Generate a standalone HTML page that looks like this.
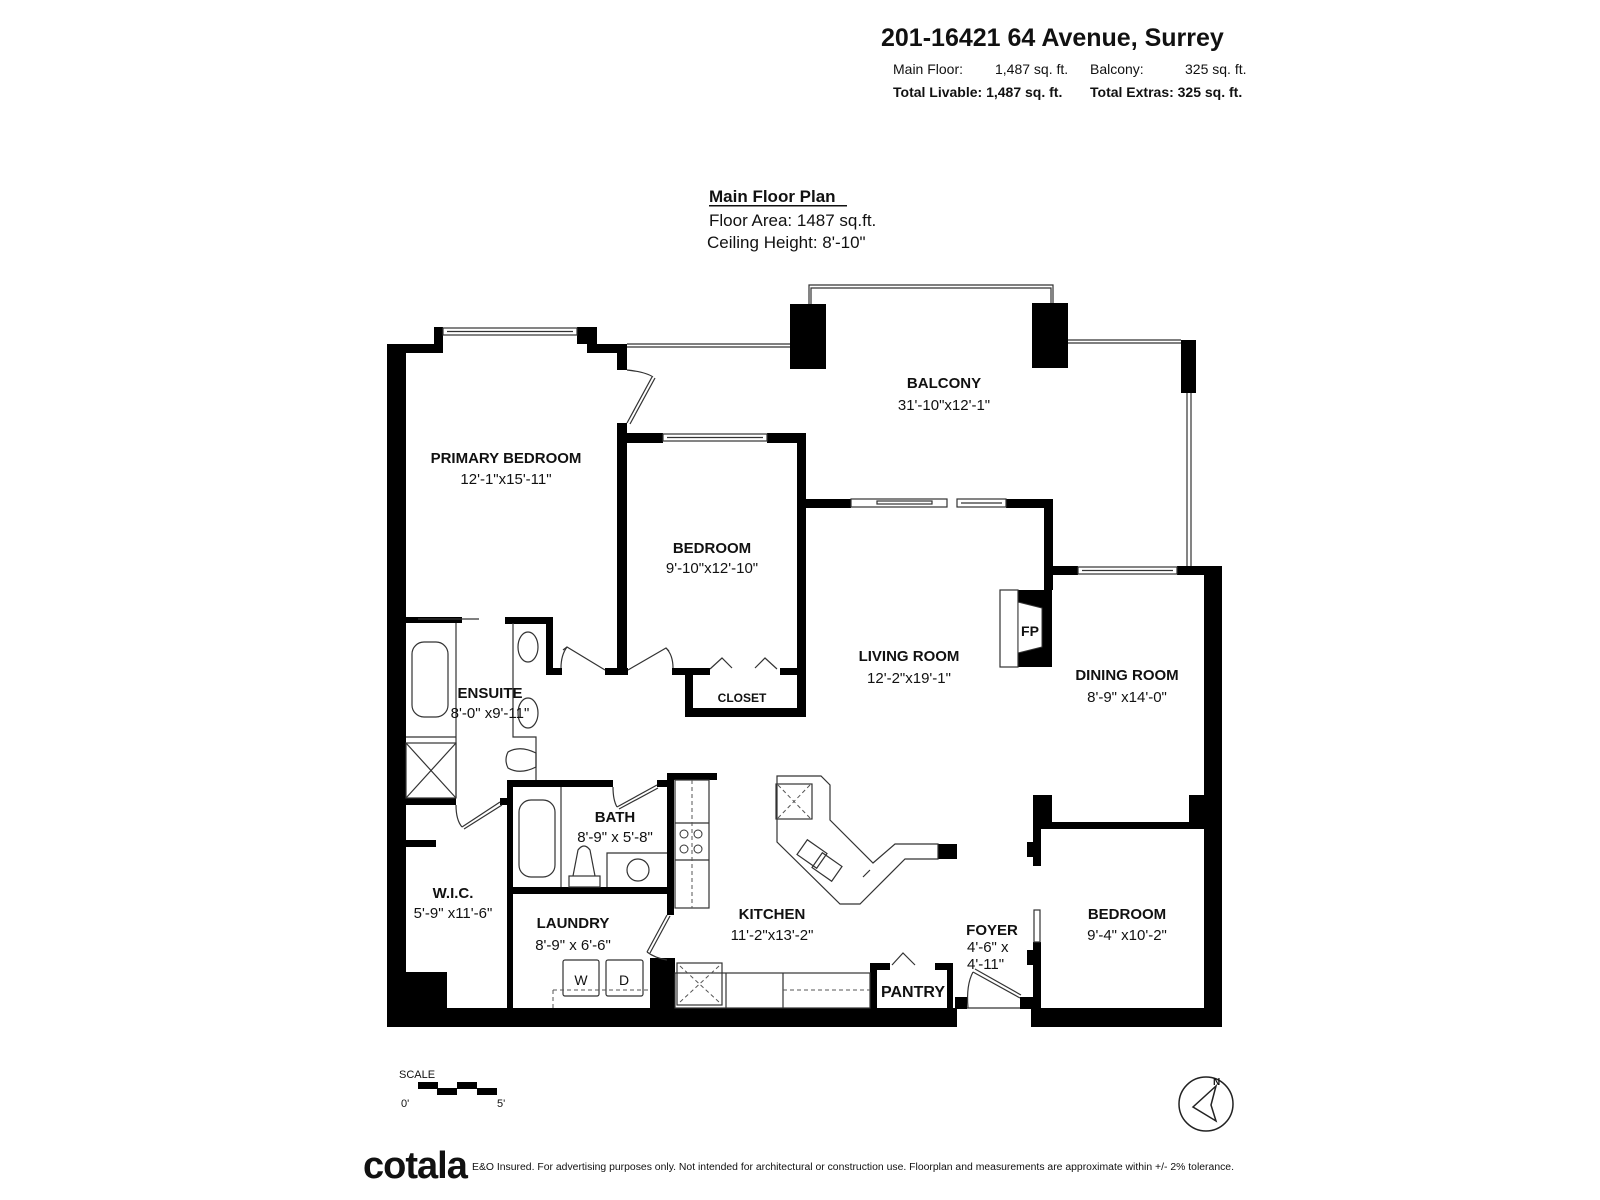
<!DOCTYPE html>
<html><head><meta charset="utf-8"><style>
html,body{margin:0;padding:0;background:#fff}
svg{display:block}
text{font-family:"Liberation Sans",sans-serif;fill:#111}
.n{font-weight:bold;font-size:15px;text-anchor:middle}
.d{font-size:15px;text-anchor:middle}
</style></head><body>
<svg width="1600" height="1200" viewBox="0 0 1600 1200" xmlns="http://www.w3.org/2000/svg">
<rect width="1600" height="1200" fill="#fff"/>
<!-- header -->
<text x="881" y="46" style="font-weight:bold;font-size:25px">201-16421 64 Avenue, Surrey</text>
<text x="893" y="74" style="font-size:14px">Main Floor:</text>
<text x="995" y="74" style="font-size:14px">1,487 sq. ft.</text>
<text x="1090" y="74" style="font-size:14px">Balcony:</text>
<text x="1185" y="74" style="font-size:14px">325 sq. ft.</text>
<text x="893" y="97" style="font-size:14px;font-weight:bold">Total Livable: 1,487 sq. ft.</text>
<text x="1090" y="97" style="font-size:14px;font-weight:bold">Total Extras: 325 sq. ft.</text>
<!-- title -->
<text x="709" y="202" style="font-size:17px;font-weight:bold">Main Floor Plan</text>
<rect x="709" y="205" width="138" height="1.5" fill="#111"/>
<text x="709" y="226" style="font-size:17px">Floor Area: 1487 sq.ft.</text>
<text x="707" y="248" style="font-size:17px">Ceiling Height: 8'-10"</text>

<g fill="#000">
<rect x="387" y="344" width="19" height="683"/>
<rect x="387" y="1008" width="570" height="19"/>
<rect x="1031" y="1008" width="191" height="19"/>
<rect x="1204" y="566" width="18" height="461"/>
<rect x="387" y="344" width="56" height="9"/>
<rect x="434" y="327" width="9" height="26"/>
<rect x="577" y="327" width="20" height="17"/>
<rect x="587" y="344" width="40" height="9"/>
<rect x="617" y="344" width="10" height="26"/>
<rect x="617" y="423" width="10" height="252"/>
<rect x="605" y="668" width="23" height="7"/>
<rect x="627" y="433" width="36" height="10"/>
<rect x="767" y="433" width="39" height="10"/>
<rect x="797" y="433" width="9" height="284"/>
<rect x="672" y="668" width="38" height="7"/>
<rect x="780" y="668" width="17" height="7"/>
<rect x="685" y="668" width="8" height="49"/>
<rect x="685" y="708" width="121" height="9"/>
<rect x="806" y="499" width="45" height="9"/>
<rect x="1006" y="499" width="47" height="9"/>
<rect x="1044" y="499" width="9" height="91"/>
<rect x="1018" y="590" width="34" height="77"/>
<rect x="1051" y="566" width="27" height="9"/>
<rect x="1177" y="566" width="45" height="9"/>
<rect x="1033" y="795" width="19" height="34"/>
<rect x="1189" y="795" width="15" height="34"/>
<rect x="1033" y="822" width="171" height="7"/>
<rect x="1033" y="829" width="8" height="37"/>
<rect x="1027" y="842" width="8" height="15"/>
<rect x="1033" y="942" width="8" height="66"/>
<rect x="1027" y="950" width="8" height="15"/>
<rect x="1020" y="997" width="21" height="12"/>
<rect x="955" y="997" width="12" height="12"/>
<rect x="406" y="617" width="56" height="6"/>
<rect x="505" y="617" width="48" height="7"/>
<rect x="546" y="617" width="7" height="58"/>
<rect x="553" y="668" width="9" height="7"/>
<rect x="406" y="798" width="50" height="7"/>
<rect x="500" y="798" width="7" height="7"/>
<rect x="406" y="840" width="30" height="7"/>
<rect x="406" y="972" width="41" height="40"/>
<rect x="507" y="780" width="6" height="230"/>
<rect x="507" y="780" width="106" height="7"/>
<rect x="657" y="780" width="17" height="7"/>
<rect x="667" y="773" width="7" height="142"/>
<rect x="667" y="773" width="50" height="7"/>
<rect x="657" y="780" width="10" height="6"/>
<rect x="513" y="887" width="154" height="7"/>
<rect x="650" y="958" width="25" height="60"/>
<rect x="870" y="963" width="7" height="47"/>
<rect x="870" y="963" width="20" height="7"/>
<rect x="935" y="963" width="18" height="7"/>
<rect x="947" y="963" width="6" height="47"/>
<rect x="790" y="304" width="36" height="65"/>
<rect x="1032" y="303" width="36" height="65"/>
<rect x="1181" y="340" width="15" height="53"/>
<rect x="938" y="844" width="19" height="15"/>
</g>

<g fill="none" stroke="#333" stroke-width="1.2">
<rect x="443" y="328" width="134" height="7"/>
<line x1="447" y1="331.5" x2="573" y2="331.5"/>
<rect x="663" y="434" width="104" height="7"/>
<line x1="667" y1="437.5" x2="763" y2="437.5"/>
<rect x="1078" y="567" width="99" height="7"/>
<line x1="1082" y1="570.5" x2="1173" y2="570.5"/>
<rect x="851" y="499" width="96" height="8"/>
<rect x="877" y="501" width="55" height="3"/>
<rect x="957" y="499" width="49" height="8"/>
<line x1="961" y1="503" x2="1002" y2="503"/>
<polyline points="809,304 809,285 1053,285 1053,303"/>
<polyline points="811,304 811,288 1051,288 1051,303"/>
<line x1="627" y1="344" x2="790" y2="344"/>
<line x1="627" y1="347" x2="790" y2="347"/>
<line x1="1068" y1="340" x2="1181" y2="340"/>
<line x1="1068" y1="343" x2="1181" y2="343"/>
<line x1="1187" y1="393" x2="1187" y2="566"/>
<line x1="1191" y1="393" x2="1191" y2="566"/>
<line x1="627" y1="423" x2="652" y2="377"/>
<line x1="630" y1="424" x2="655" y2="378"/>
<path d="M627 370 Q646 372 653 377"/>
<polyline points="605,670 567,647 563,650"/>
<path d="M561 668 Q561 655 567 647"/>
<polyline points="628,670 666,648 669,651"/>
<path d="M673 668 Q673 655 666 648"/>
<polyline points="710,669 722,658 732,668"/>
<polyline points="755,668 765,658 777,669"/>
<line x1="500" y1="802" x2="462" y2="827"/>
<line x1="502" y1="805" x2="464" y2="829"/>
<path d="M456 805 Q456 820 462 827"/>
<line x1="617" y1="807" x2="657" y2="785"/>
<line x1="619" y1="809" x2="658" y2="788"/>
<path d="M613 787 Q613 800 617 807"/>
<line x1="667" y1="915" x2="647" y2="952"/>
<line x1="670" y1="916" x2="650" y2="953"/>
<path d="M647 952 Q655 958 667 960"/>
<line x1="973" y1="972" x2="1020" y2="998"/>
<line x1="975" y1="969" x2="1021" y2="995"/>
<path d="M968 1008 Q966 985 973 972"/>
<line x1="967" y1="1008" x2="1020" y2="1008"/>
<polyline points="892,965 903,953 915,965"/>
<rect x="1034" y="910" width="6" height="32"/>
<line x1="418" y1="619" x2="479" y2="619"/>
<polyline points="456,623 456,798"/>
<line x1="406" y1="737" x2="456" y2="737"/>
<rect x="412" y="642" width="36" height="75" rx="12"/>
<rect x="406" y="743" width="50" height="55"/>
<line x1="406" y1="743" x2="456" y2="798"/><line x1="456" y1="743" x2="406" y2="798"/>
<polyline points="513,623 513,737 536,737 536,780"/>
<ellipse cx="528" cy="647" rx="10" ry="15"/>
<ellipse cx="528" cy="713" rx="10" ry="15"/>
<path d="M536 753 Q520 745 508 752 Q504 760 508 768 Q520 775 536 767 Z"/>
<rect x="519" y="800" width="36" height="77" rx="12"/>
<line x1="561" y1="787" x2="561" y2="887"/>
<polyline points="607,887 607,853 667,853"/>
<circle cx="638" cy="870" r="11"/>
<path d="M573 876 L578 850 Q584 842 590 850 L595 876"/>
<rect x="569" y="876" width="31" height="11"/>
<rect x="563" y="960" width="36" height="36" rx="2"/>
<rect x="606" y="960" width="37" height="36" rx="2"/>
<rect x="675" y="780" width="34" height="128"/>
<line x1="675" y1="823" x2="709" y2="823"/>
<line x1="675" y1="860" x2="709" y2="860"/>
<rect x="675" y="973" width="195" height="35"/>
<line x1="726" y1="973" x2="726" y2="1008"/>
<line x1="783" y1="973" x2="783" y2="1008"/>
<rect x="677" y="963" width="45" height="42"/>
<polygon points="777,776 821,776 830,785 830,820 873,863 895,844 938,844 938,859 905,859 860,904 840,904 777,842"/>
<rect x="776" y="784" width="36" height="35"/>
<polyline points="870,870 863,877"/>
<rect x="800" y="845" width="24" height="18" transform="rotate(35 812 854)"/>
<rect x="815" y="858" width="24" height="18" transform="rotate(35 827 867)"/>
<rect x="1000" y="590" width="18" height="77"/>
</g>
<polygon points="1018,602 1042,608 1042,647 1018,653" fill="#fff" stroke="#333"/>
<g stroke="#555" stroke-width="1" stroke-dasharray="4,3" fill="none">
<line x1="692" y1="780" x2="692" y2="908"/>
<line x1="553" y1="990" x2="648" y2="990"/><line x1="553" y1="990" x2="553" y2="1008"/>
<line x1="783" y1="990" x2="870" y2="990"/>
<line x1="778" y1="785" x2="810" y2="818"/><line x1="810" y1="785" x2="778" y2="818"/>
<line x1="680" y1="966" x2="719" y2="1002"/><line x1="719" y1="966" x2="680" y2="1002"/>
</g>
<g fill="none" stroke="#333" stroke-width="1">
<circle cx="684" cy="834" r="4"/><circle cx="698" cy="834" r="4"/>
<circle cx="684" cy="849" r="4"/><circle cx="698" cy="849" r="4"/>
</g>

<text class="n" x="944" y="388">BALCONY</text><text class="d" x="944" y="410">31'-10"x12'-1"</text>
<text class="n" x="506" y="463">PRIMARY BEDROOM</text><text class="d" x="506" y="484">12'-1"x15'-11"</text>
<text class="n" x="712" y="553">BEDROOM</text><text class="d" x="712" y="573">9'-10"x12'-10"</text>
<text x="742" y="702" style="font-weight:bold;font-size:12px;text-anchor:middle">CLOSET</text>
<text class="n" x="909" y="661">LIVING ROOM</text><text class="d" x="909" y="683">12'-2"x19'-1"</text>
<text class="n" x="1030" y="636" style="font-size:14px">FP</text>
<text class="n" x="1127" y="680">DINING ROOM</text><text class="d" x="1127" y="702">8'-9" x14'-0"</text>
<text class="n" x="490" y="698">ENSUITE</text><text class="d" x="490" y="718">8'-0" x9'-11"</text>
<text class="n" x="615" y="822">BATH</text><text class="d" x="615" y="842">8'-9" x 5'-8"</text>
<text class="n" x="453" y="898">W.I.C.</text><text class="d" x="453" y="918">5'-9" x11'-6"</text>
<text class="n" x="573" y="928">LAUNDRY</text><text class="d" x="573" y="950">8'-9" x 6'-6"</text>
<text class="n" x="772" y="919">KITCHEN</text><text class="d" x="772" y="940">11'-2"x13'-2"</text>
<text class="n" x="992" y="935">FOYER</text>
<text x="967" y="952" style="font-size:15px">4'-6" x</text>
<text x="967" y="969" style="font-size:15px">4'-11"</text>
<text class="n" x="913" y="997" style="font-size:16px">PANTRY</text>
<text class="n" x="1127" y="919">BEDROOM</text><text class="d" x="1127" y="940">9'-4" x10'-2"</text>
<text x="581" y="985" style="font-size:14px;text-anchor:middle">W</text>
<text x="624" y="985" style="font-size:14px;text-anchor:middle">D</text>

<text x="399" y="1078" style="font-size:11px">SCALE</text>
<g fill="#000">
<rect x="418" y="1082" width="20" height="7"/><rect x="437" y="1088" width="20" height="7"/>
<rect x="457" y="1082" width="20" height="7"/><rect x="477" y="1088" width="20" height="7"/>
</g>
<text x="401" y="1107" style="font-size:11px">0'</text>
<text x="497" y="1107" style="font-size:11px">5'</text>
<circle cx="1206" cy="1104" r="27" fill="none" stroke="#222" stroke-width="1.5"/>
<polygon points="1216,1086 1193,1107 1216,1121 1211,1105" fill="none" stroke="#222" stroke-width="1.5"/>
<text x="1213" y="1085" style="font-size:10px;font-weight:bold">N</text>
<text x="363" y="1178" style="font-size:38px;font-weight:bold;letter-spacing:-1px">cotala</text>
<text x="472" y="1170" style="font-size:10px" textLength="762" lengthAdjust="spacingAndGlyphs">E&amp;O Insured. For advertising purposes only. Not intended for architectural or construction use. Floorplan and measurements are approximate within +/- 2% tolerance.</text>
</svg>
</body></html>
